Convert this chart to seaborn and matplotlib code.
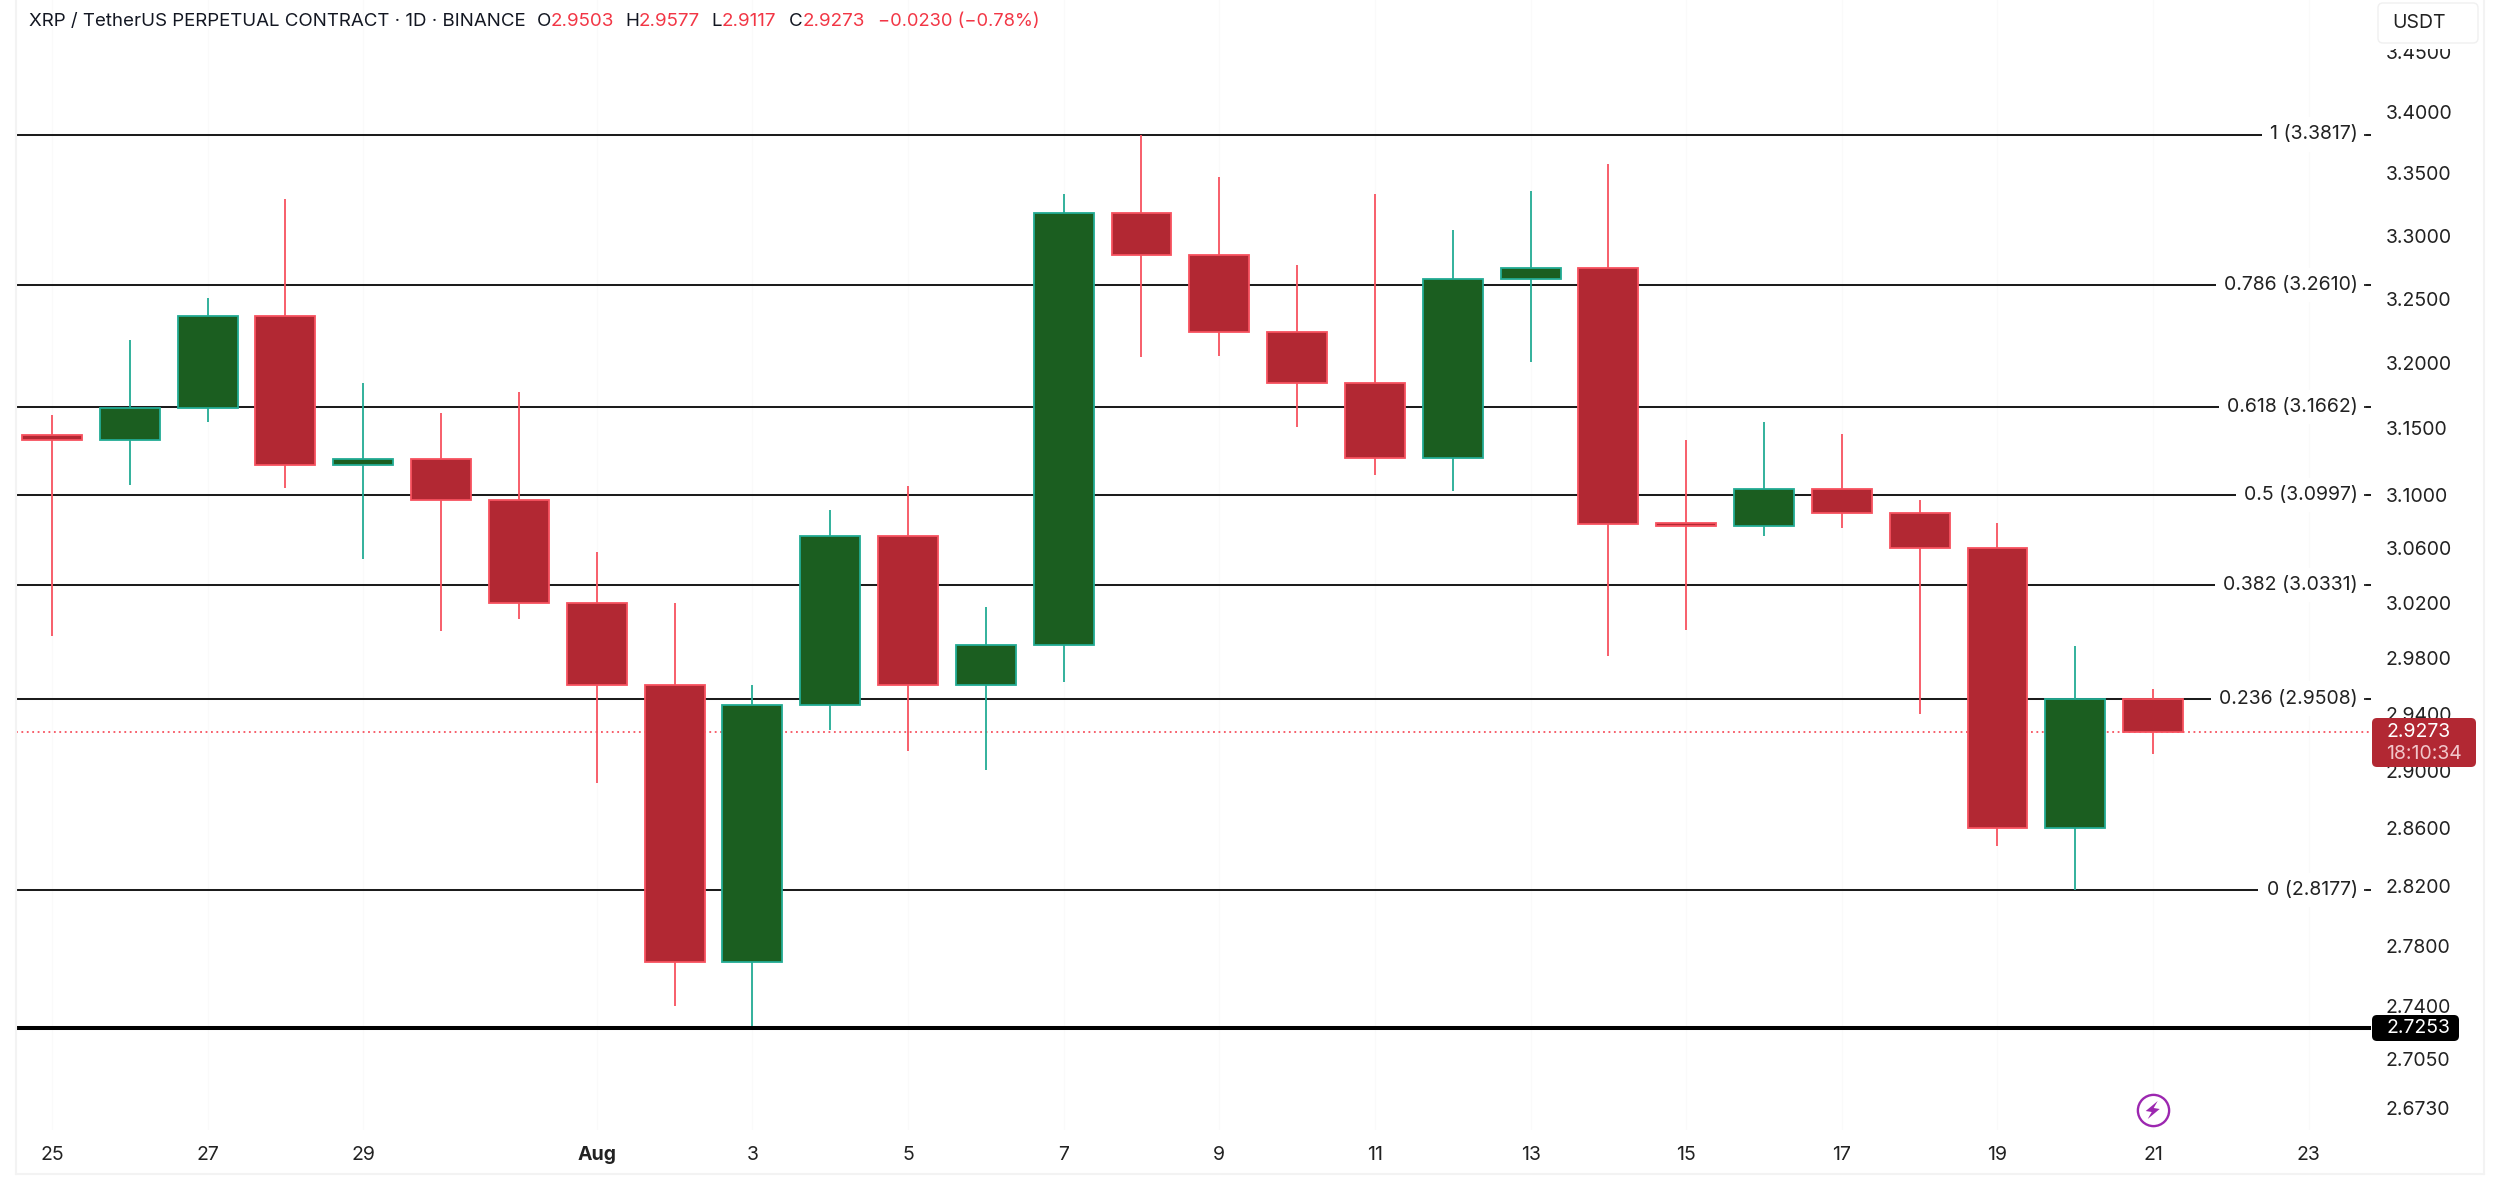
import matplotlib
matplotlib.use("Agg")
import matplotlib.pyplot as plt
from matplotlib.lines import Line2D
from matplotlib.patches import FancyBboxPatch, Polygon, Rectangle
from matplotlib.ticker import FixedLocator, FixedFormatter, NullLocator
import numpy as np
import pandas as pd
import seaborn as sns

days = np.arange(28)
opens = [3.1447, 3.1412, 3.1654, 3.2369, 3.1219, 3.1266, 3.0956, 3.0201, 2.9606, 2.7692,
         2.9465, 3.0695, 2.9606, 2.9891, 3.3178, 3.2846, 3.2245, 3.1850, 3.1278, 3.2657,
         3.2745, 3.0789, 3.0765, 3.1039, 3.0860, 3.0600, 2.8599, 2.9503]
closes = [3.1412, 3.1654, 3.2369, 3.1219, 3.1266, 3.0956, 3.0201, 2.9606, 2.7692, 2.9465,
          3.0695, 2.9606, 2.9891, 3.3178, 3.2846, 3.2245, 3.1850, 3.1278, 3.2657, 3.2745,
          3.0777, 3.0765, 3.1039, 3.0860, 3.0600, 2.8599, 2.9503, 2.9273]
highs = [3.1605, 3.2183, 3.2506, 3.3292, 3.1850, 3.1617, 3.1776, 3.0576, 3.0201, 2.9606,
         3.0884, 3.1062, 3.0167, 3.3331, 3.3817, 3.3472, 3.2771, 3.3331, 3.3049, 3.3357,
         3.3575, 3.1412, 3.1545, 3.1459, 3.0956, 3.0789, 2.9887, 2.9577]
lows = [2.9959, 3.1074, 3.1545, 3.1051, 3.0518, 2.9993, 3.0085, 2.8911, 2.7395, 2.7253,
        2.9283, 2.9136, 2.9004, 2.9629, 3.2047, 3.2059, 3.1508, 3.1147, 3.1027, 3.2010,
        2.9811, 3.0005, 3.0695, 3.0753, 2.9398, 2.8478, 2.8177, 2.9117]
fib_ratios = ["1", "0.786", "0.618", "0.5", "0.382", "0.236", "0"]
fib_prices = [3.3817, 3.2610, 3.1662, 3.0997, 3.0331, 2.9508, 2.8177]
support_price = 2.7253
last_price = 2.9273
countdown = "18:10:34"
price_ticks = [3.45, 3.40, 3.35, 3.30, 3.25, 3.20, 3.15, 3.10, 3.06, 3.02, 2.98, 2.94, 2.90,
               2.86, 2.82, 2.78, 2.74, 2.705, 2.673]
date_ticks = [0, 2, 4, 7, 9, 11, 13, 15, 17, 19, 21, 23, 25, 27, 29]
date_labels = ["25", "27", "29", "Aug", "3", "5", "7", "9", "11", "13", "15", "17", "19", "21", "23"]

UP_BODY, DOWN_BODY = "#1B5E20", "#B22833"
UP_EDGE, DOWN_EDGE = "#22AB94", "#F7525F"
W, H = 2500, 1189
FS = 14.0

sns.set_theme(style="white")
plt.rcParams["font.family"] = ["Inter", "DejaVu Sans"]
fig = plt.figure(figsize=(W / 100, H / 100), dpi=100, facecolor="white")
L, R, B = 16, 2371, 1130
ax = fig.add_axes([L / W, 1 - B / H, (R - L) / W, B / H])
ax.set_yscale("log")


def fx(x):
    return x / W


def fy(y):
    return 1 - y / H


df = pd.DataFrame({"day": days, "open": opens, "close": closes, "high": highs, "low": lows})
df["top"] = df[["open", "close"]].max(axis=1)
df["bottom"] = df[["open", "close"]].min(axis=1)
df["height"] = df["top"] - df["bottom"]
df["up"] = df["close"] >= df["open"]

for is_up, body, edge in [(True, UP_BODY, UP_EDGE), (False, DOWN_BODY, DOWN_EDGE)]:
    sub = df[df["up"] == is_up]
    ax.vlines(sub["day"], sub["low"], sub["high"], color=edge, lw=1.3, zorder=3)
    sns.barplot(data=sub, x="day", y="height", bottom=sub["bottom"].to_numpy(), native_scale=True,
                width=0.77, color=body, saturation=1, edgecolor=edge, linewidth=1.3,
                errorbar=None, ax=ax, zorder=4)

k = 4140
ax.set_xlim((L - 52) / 77.82, (R - 52) / 77.82)
ax.set_ylim(3.3817 * np.exp(-(B - 134.5) / k), 3.3817 * np.exp(134.5 / k))
ax.set_xlabel("")
ax.set_ylabel("")
for s in ax.spines.values():
    s.set_visible(False)

# Fib levels
trans = ax.get_yaxis_transform()
for ratio, price in zip(fib_ratios, fib_prices):
    ax.axhline(price, color="#1c1c1c", lw=1.45, zorder=1)
    ax.text(0.9944, price, f"{ratio} ({price:.4f})", transform=trans, ha="right", va="center",
            fontsize=FS, color="#222222", zorder=2,
            bbox=dict(facecolor="white", edgecolor="none", pad=6.0))
    ax.plot([0.9972, 1.0], [price, price], transform=trans, color="#222222", lw=1.3, zorder=6,
            clip_on=False, solid_capstyle="butt")
ax.axhline(support_price, color="black", lw=2.9, zorder=5)
ax.axhline(last_price, color=DOWN_EDGE, lw=1.3, ls=(0, (1, 2)), zorder=2)

# Axes ticks
ax.yaxis.tick_right()
ax.yaxis.set_major_locator(FixedLocator(price_ticks))
ax.yaxis.set_major_formatter(FixedFormatter([f"{p:.4f}" for p in price_ticks]))
ax.yaxis.set_minor_locator(NullLocator())
ax.tick_params(axis="y", which="major", length=0, pad=10.5, labelsize=FS, labelcolor="#222222")
ax.set_xticks(date_ticks)
ax.set_xticklabels(date_labels)
ax.tick_params(axis="x", length=0, pad=11.5, labelsize=FS, labelcolor="#222222")
for t in ax.get_xticklabels():
    if t.get_text() == "Aug":
        t.set_fontweight("bold")
ax.grid(axis="x", color="#fafafa", lw=1)
ax.set_axisbelow(True)

# Frame
for xs, ys in [((16, 16), (0, 1174)), ((2484, 2484), (0, 1174)), ((16, 2484), (1174, 1174))]:
    fig.add_artist(Line2D([fx(v) for v in xs], [fy(v) for v in ys], color="#f3f3f3", lw=1.5, zorder=1))


def tag(x0, y0, x1, y1, fc, ec="none", z=10):
    fig.add_artist(FancyBboxPatch((fx(x0), fy(y1)), fx(x1 - x0), fy(y0) - fy(y1),
                                  boxstyle="round,pad=0,rounding_size=0.002", mutation_aspect=2.1,
                                  fc=fc, ec=ec, lw=1, transform=fig.transFigure, zorder=z))


# USDT button, which clips the top of the first price label
fig.add_artist(Rectangle((fx(2376), fy(49)), fx(104), fy(43) - fy(49), fc="white", ec="none",
                         transform=fig.transFigure, zorder=9))
tag(2378, 3, 2478, 43, "white", "#f0f0f0")
fig.text(fx(2392), fy(23), "USDT", fontsize=FS, color="#222222", va="center", zorder=11)
# Price tags
tag(2372, 718, 2476, 767, DOWN_BODY)
fig.text(fx(2386), fy(732), f"{last_price:.4f}", fontsize=FS, color="white", va="center", zorder=11)
fig.text(fx(2386), fy(754), countdown, fontsize=FS, color="#f1c6ca", va="center", zorder=11)
tag(2372, 1015, 2459, 1041, "black")
fig.text(fx(2386), fy(1028), f"{support_price:.4f}", fontsize=FS, color="white", va="center", zorder=11)

# Lightning badge
bx, by = 2152.7, 1110
fig.add_artist(Line2D([fx(bx)], [fy(by)], marker="o", ms=22.5, mfc="white", mec="#9C27B0", mew=1.7, zorder=9))
bolt = [(5, -9), (-7, 1), (-1, 2), (-5, 9), (7, -1), (1, -2)]
fig.add_artist(Polygon([(fx(bx + a), fy(by + b)) for a, b in bolt], closed=True, fc="#9C27B0", ec="none",
                       transform=fig.transFigure, zorder=10))

# Header
BLK, RED = "#131722", "#F23645"
hdr = [(29, "XRP / TetherUS PERPETUAL CONTRACT \u00b7 1D \u00b7 BINANCE", BLK, 13.5),
       (537, "O", BLK, 13.5), (551, "2.9503", RED, 13.5), (625, "H", BLK, 13.5), (639, "2.9577", RED, 13.5),
       (711, "L", BLK, 13.5), (722, "2.9117", RED, 13.5), (789, "C", BLK, 13.5), (803, "2.9273", RED, 13.5),
       (878, "\u22120.0230 (\u22120.78%)", RED, 13.2)]
for x, s, c, fs in hdr:
    fig.text(fx(x), fy(21), s, fontsize=fs, color=c, va="center", zorder=11)

fig.savefig("out.png", dpi=100)
